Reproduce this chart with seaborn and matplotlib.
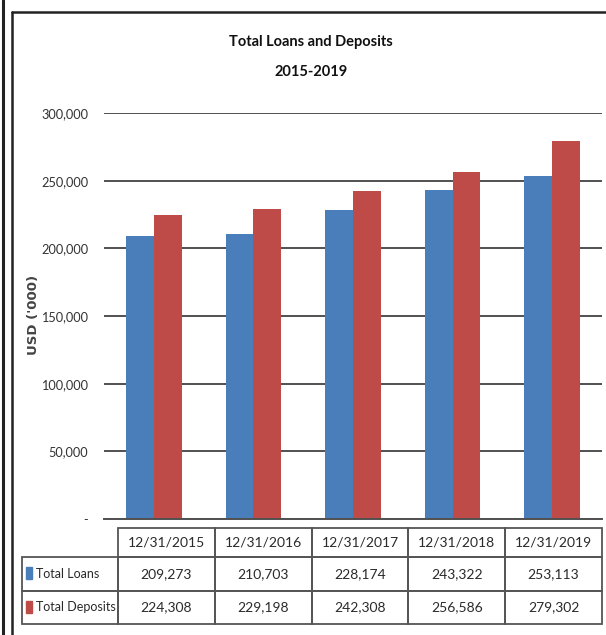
import matplotlib
matplotlib.use("Agg")
import matplotlib.pyplot as plt
import seaborn as sns
import pandas as pd
from matplotlib.lines import Line2D
from matplotlib.patches import Rectangle

# ---- data ----
dates = ["12/31/2015", "12/31/2016", "12/31/2017", "12/31/2018", "12/31/2019"]
series = ["Total Loans", "Total Deposits"]
loans = [209273, 210703, 228174, 243322, 253113]
deposits = [224308, 229198, 242308, 256586, 279302]
yticks = [0, 50000, 100000, 150000, 200000, 250000, 300000]
colors = ["#4A7EBB", "#BE4B48"]
title_lines = ["Total Loans and Deposits", "2015-2019"]
ylabel = "USD ('000)"

sns.set_theme(style="white")
plt.rcParams["font.family"] = ["Lato", "DejaVu Sans"]

df = pd.DataFrame({
    "Date": dates * 2,
    "Series": [series[0]] * len(dates) + [series[1]] * len(dates),
    "Value": loans + deposits,
})

W, H = 606, 635
fig = plt.figure(figsize=(W / 100, H / 100), dpi=100)
fig.patch.set_facecolor("white")


def fx(x):
    return x / W


def fy(y):
    return 1 - y / H


ax = fig.add_axes([fx(104), fy(519), fx(602) - fx(104), fy(113) - fy(519)])
sns.barplot(data=df, x="Date", y="Value", hue="Series", order=dates,
            hue_order=series, palette=colors, width=0.56, gap=0,
            saturation=1, errorbar=None, legend=False, linewidth=0, ax=ax)
ax.set_xlim(-0.5, 4.5)
ax.set_ylim(0, 300000)
ax.set_yticks(yticks)
ax.set_yticklabels(["-" if v == 0 else f"{v:,}" for v in yticks])
ax.yaxis.grid(True, color="#505050", lw=1.4)
ax.set_axisbelow(True)
for s in ["top", "right", "left"]:
    ax.spines[s].set_visible(False)
ax.spines["bottom"].set_color("#505050")
ax.spines["bottom"].set_linewidth(1.4)
ax.set_xticks([])
ax.set_xlabel("")
ax.set_ylabel("")
ax.tick_params(axis="y", length=0, pad=11.5, labelsize=9.2, labelcolor="#333333")
ax.patch.set_alpha(0)

# overlay axes for frame, titles and table
tax = fig.add_axes([0, 0, 1, 1], zorder=-1)
tax.axis("off")
tax.set_xlim(0, W)
tax.set_ylim(H, 0)

# frame lines
tax.add_line(Line2D([3, 3], [0, H], color="#222222", lw=2.2))
tax.add_line(Line2D([12, 12], [12, H], color="#222222", lw=1.8))
tax.add_line(Line2D([12, W], [12, 12], color="#222222", lw=1.8))

fig.text(fx(311), fy(42), title_lines[0], ha="center", va="center",
         fontsize=10.5, fontweight="bold", color="#111111")
fig.text(fx(311), fy(72), title_lines[1], ha="center", va="center",
         fontsize=10.5, fontweight="bold", color="#111111")
fig.text(fx(34), fy(315), ylabel, rotation=90, ha="center", va="center",
         family="DejaVu Sans", fontsize=9.5, fontweight="bold", color="#444444")

# data table
cell_text = [[""] + dates,
             [series[0]] + [f"{v:,}" for v in loans],
             [series[1]] + [f"{v:,}" for v in deposits]]
col_w = [96] + [96.8] * len(dates)
left, right, top, bottom = 22, 602, 528, 624
tbl = tax.table(cellText=cell_text, colWidths=col_w, cellLoc="center",
                bbox=[fx(left), fy(bottom), fx(right) - fx(left), fy(top) - fy(bottom)])
tbl.auto_set_font_size(False)
row_h = [29, 33.5, 33.5]
for (r, c), cell in tbl.get_celld().items():
    cell.set_height(row_h[r])
    cell.set_edgecolor("#555555")
    cell.set_facecolor("none")
    cell.set_linewidth(1.3)
    cell.get_text().set_fontsize(10)
    cell.get_text().set_color("#2a2a2a")
    if c == 0:
        cell.get_text().set_ha("left")
        cell._loc = "left"
        cell.PAD = 0.15
        cell.get_text().set_fontsize(9)
    if r == 0 and c == 0:
        cell.visible_edges = ""

# legend keys in the row-label cells
tax.add_patch(Rectangle((26, 567), 6, 12, color=colors[0]))
tax.add_patch(Rectangle((26, 601), 6, 12, color=colors[1]))

fig.savefig("out.png", dpi=100, facecolor="white")
